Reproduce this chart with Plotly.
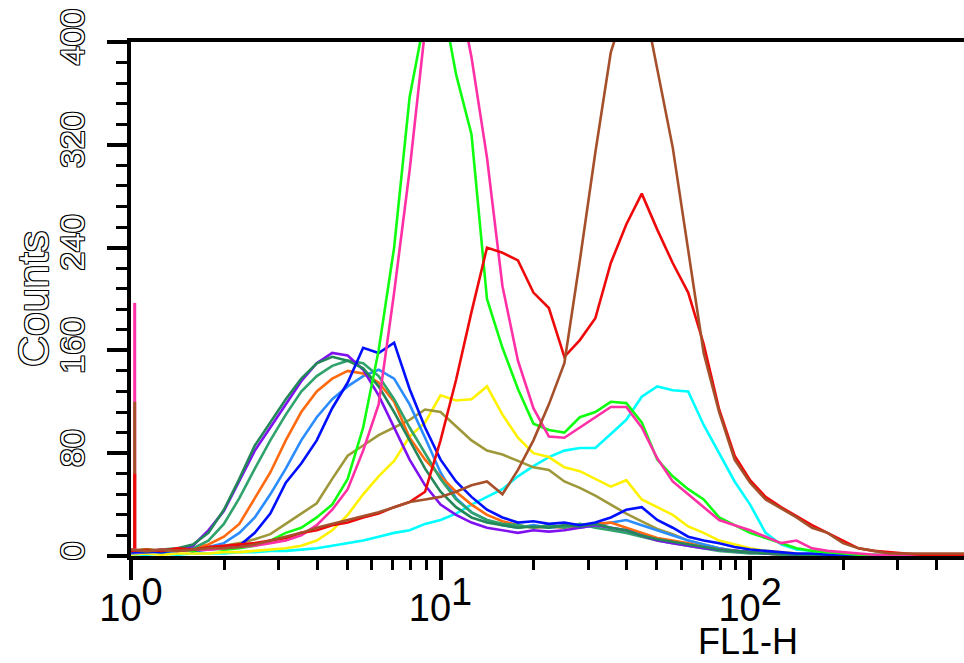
import plotly.graph_objects as go

# ---------------- data ----------------
LOG_STEP = 0.05          # channel width in decades
N_CH = 55
fl1 = [10 ** (i * LOG_STEP) for i in range(N_CH)]   # FL1-H channel scale

cyan = [1, 1, 2, 1, 2, 2, 2, 3, 3, 4,
        4, 5, 6, 8, 10, 12, 15, 18, 20, 25,
        28, 33, 40, 46, 52, 62, 70, 77, 82, 84,
        84, 95, 106, 124, 132, 129, 128, 102, 80, 58,
        40, 18, 9, 5, 4, 2, 2, 1, 1, 0,
        0, 0, 0, 0, 0]
yellow = [1, 2, 1, 2, 2, 2, 3, 3, 4, 5,
          6, 8, 12, 20, 32, 48, 62, 74, 93, 104,
          125, 121, 122, 132, 110, 92, 80, 77, 69, 66,
          60, 54, 59, 44, 38, 32, 23, 18, 12, 9,
          6, 4, 3, 2, 1, 1, 0, 0, 0, 0,
          0, 0, 0, 0, 0]
olive = [3, 4, 3, 4, 5, 6, 8, 10, 13, 17,
         25, 33, 41, 60, 78, 86, 94, 100, 106, 114,
         112, 101, 90, 82, 79, 74, 69, 67, 58, 53,
         47, 40, 33, 27, 21, 17, 12, 9, 6, 4,
         3, 2, 2, 1, 1, 1, 0, 0, 0, 0,
         0, 0, 0, 0, 0]
lightblue = [2, 3, 3, 4, 5, 7, 10, 18, 30, 48,
             68, 90, 108, 122, 132, 140, 145, 138, 118, 92,
             65, 45, 34, 28, 24, 22, 24, 22, 23, 22,
             24, 26, 28, 24, 20, 16, 12, 9, 6, 4,
             3, 2, 1, 1, 0, 0, 0, 0, 0, 0,
             0, 0, 0, 0, 0]
orange = [4, 5, 4, 5, 6, 9, 15, 25, 45, 65,
          90, 112, 128, 138, 144, 142, 135, 120, 92, 75,
          62, 50, 40, 32, 27, 24, 22, 23, 22, 24,
          25, 26, 22, 18, 14, 12, 10, 7, 5, 4,
          3, 2, 1, 1, 1, 0, 0, 0, 0, 0,
          0, 0, 0, 0, 0]
medgreen = [3, 4, 3, 5, 6, 12, 25, 45, 68, 90,
            110, 128, 140, 148, 152, 150, 140, 122, 100, 80,
            60, 44, 34, 28, 25, 24, 22, 24, 22, 25,
            22, 20, 18, 15, 12, 10, 8, 6, 4, 3,
            2, 2, 1, 1, 1, 0, 0, 0, 0, 0,
            0, 0, 0, 0, 0]
purple = [3, 3, 4, 5, 8, 20, 35, 58, 82, 100,
          118, 136, 150, 158, 156, 145, 125, 100, 75, 55,
          40, 32, 26, 22, 20, 18, 20, 19, 20, 22,
          24, 22, 20, 16, 12, 10, 8, 6, 5, 4,
          3, 2, 2, 1, 1, 0, 0, 0, 0, 0,
          0, 0, 0, 0, 0]
seagreen = [4, 3, 5, 6, 9, 18, 36, 60, 86, 104,
            122, 138, 150, 155, 152, 146, 132, 112, 90, 68,
            50, 38, 30, 26, 24, 22, 23, 22, 24, 23,
            25, 22, 20, 16, 13, 11, 9, 7, 5, 4,
            3, 2, 2, 1, 1, 1, 0, 0, 0, 0,
            0, 0, 0, 0, 0]
blue = [3, 4, 3, 5, 4, 5, 6, 8, 18, 33,
        57, 72, 90, 115, 135, 162, 158, 166, 130, 100,
        75, 58, 46, 36, 30, 26, 27, 25, 26, 24,
        26, 30, 36, 38, 28, 22, 15, 12, 10, 7,
        5, 4, 3, 2, 2, 1, 1, 0, 0, 0,
        0, 0, 0, 0, 0]
green = [4, 5, 4, 5, 4, 6, 5, 6, 8, 12,
         18, 22, 30, 40, 60, 100, 160, 240, 357, 420,
         440, 375, 328, 200, 162, 130, 103, 98, 96, 108,
         112, 120, 119, 104, 75, 62, 52, 44, 30, 24,
         18, 14, 10, 6, 4, 3, 2, 1, 1, 1,
         0, 0, 0, 0, 0]
magenta = [5, 4, 5, 4, 5, 5, 6, 7, 8, 10,
           12, 16, 24, 36, 52, 82, 118, 205, 300, 410,
           450, 450, 388, 310, 210, 152, 115, 93, 92, 100,
           108, 116, 116, 100, 76, 58, 48, 38, 28, 24,
           20, 15, 10, 12, 6, 4, 3, 2, 1, 1,
           0, 0, 0, 0, 0]
red = [4, 5, 4, 6, 5, 7, 8, 9, 10, 12,
       14, 18, 20, 24, 26, 30, 33, 38, 42, 50,
       90, 137, 190, 240, 236, 230, 205, 193, 155, 168,
       185, 228, 258, 282, 254, 228, 205, 165, 114, 78,
       59, 46, 38, 31, 24, 18, 12, 6, 4, 3,
       2, 1, 1, 1, 1]
brown = [5, 4, 5, 4, 5, 6, 6, 7, 9, 12,
         15, 18, 22, 25, 28, 31, 34, 38, 42, 44,
         46, 50, 55, 58, 48, 67, 90, 118, 150, 230,
         314, 392, 430, 440, 378, 318, 238, 158, 112, 75,
         57, 44, 37, 30, 22, 18, 10, 6, 4, 2,
         2, 2, 2, 2, 2]

# counts piled up in the first (off-scale low) channel
first_channel = {"magenta": 197, "brown": 120, "red": 64}
FIRST_CH_X = 10 ** 0.012

y_ticks = [0, 80, 160, 240, 320, 400]
x_major = [1, 10, 100]
x_major_text = ["0", "1", "2"]
x_minor = [2, 3, 4, 5, 6, 7, 8, 9, 20, 30, 40, 50, 60, 70, 80, 90, 200, 300, 400, 500]

# ---------------- styles ----------------
colors = {
    "cyan": "#00FFFF", "yellow": "#FFF200", "olive": "#9E983A", "lightblue": "#2A8CFF",
    "orange": "#FF6A10", "medgreen": "#2FA36B", "purple": "#7F10F0", "seagreen": "#23875A",
    "blue": "#0010FF", "green": "#10FF10", "magenta": "#FF2FA6", "red": "#EE0A0A",
    "brown": "#A5502A",
}
series = [
    ("cyan", cyan), ("yellow", yellow), ("olive", olive), ("lightblue", lightblue),
    ("orange", orange), ("medgreen", medgreen), ("purple", purple), ("seagreen", seagreen),
    ("blue", blue), ("green", green), ("magenta", magenta), ("red", red), ("brown", brown),
]

fig = go.Figure()
for name in ["magenta", "brown", "red"]:
    fig.add_trace(go.Scatter(x=[FIRST_CH_X, FIRST_CH_X], y=[0, first_channel[name]],
                             mode="lines", line=dict(color=colors[name], width=3),
                             hoverinfo="skip"))
for name, vals in series:
    fig.add_trace(go.Scatter(x=fl1, y=vals, mode="lines", name=name,
                             line=dict(color=colors[name], width=2.6)))

outline = "1px 1px 0 #000, -1px -1px 0 #000, 1px -1px 0 #000, -1px 1px 0 #000"
big = 38
ticktext = ['10<sup><span style="font-size:%dpx">%s</span></sup>' % (big, s) for s in x_major_text]

fig.update_layout(
    width=964, height=663,
    margin=dict(l=131, r=0, t=42, b=107),
    plot_bgcolor="white", paper_bgcolor="white",
    showlegend=False,
)
fig.update_xaxes(
    type="log", range=[0, 2.691], automargin=False,
    showline=True, linecolor="black", linewidth=4, mirror=True,
    ticks="outside", ticklen=20, tickwidth=4, tickcolor="black",
    tickmode="array", tickvals=x_major, ticktext=ticktext,
    tickfont=dict(family="Liberation Sans, Arial", size=big, color="black"),
    ticklabelstandoff=-5,
    showgrid=False, zeroline=False,
    minor=dict(tickmode="array", tickvals=x_minor, ticks="outside", ticklen=10,
               tickwidth=3, tickcolor="black", showgrid=False),
)
fig.update_yaxes(
    range=[0, 400], automargin=False,
    showline=True, linecolor="black", linewidth=4,
    ticks="outside", ticklen=20, tickwidth=4, tickcolor="black",
    tickmode="array", tickvals=y_ticks, tickangle=-90,
    tickfont=dict(family="Liberation Sans, Arial", size=34, color="white", shadow=outline),
    ticklabelstandoff=9,
    showgrid=False, zeroline=False,
    minor=dict(dtick=16, tick0=0, ticks="outside", ticklen=11, tickwidth=3,
               tickcolor="black", showgrid=False),
)
fig.add_annotation(text="Counts", xref="paper", yref="paper", x=-0.1176, y=0.5,
                   xanchor="center", yanchor="middle", textangle=-90, showarrow=False,
                   font=dict(family="Liberation Sans, Arial", size=43, color="white", shadow=outline))
fig.add_annotation(text="FL1-H", xref="paper", yref="paper", x=0.7407, y=-0.1673,
                   xanchor="center", yanchor="middle", showarrow=False,
                   font=dict(family="Liberation Sans, Arial", size=36, color="black"))

# place the figure flush with the window (no default page margin, no scrollbars)
page_fix = ("document.documentElement.style.overflow='hidden';"
            "document.body.style.overflow='hidden';"
            "document.body.style.margin='0';")
fig.write_html("out.html", post_script=page_fix, config={"displayModeBar": False})
